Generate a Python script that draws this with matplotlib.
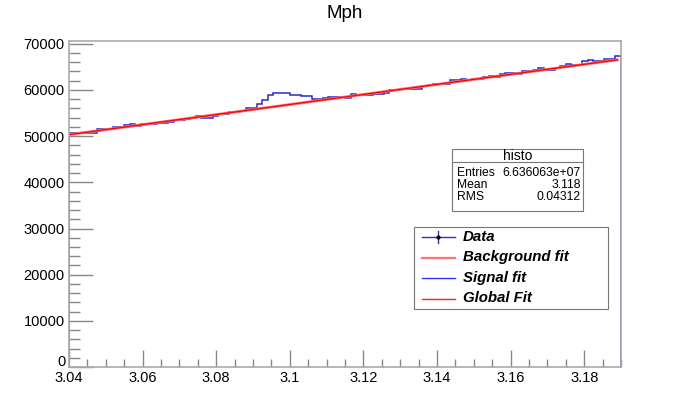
import numpy as np
import matplotlib
matplotlib.use("Agg")
import matplotlib.pyplot as plt
from matplotlib.patches import Rectangle
from matplotlib.lines import Line2D
from matplotlib.ticker import MultipleLocator, FormatStrFormatter, FuncFormatter

plt.rcParams['font.family'] = ['Liberation Sans', 'DejaVu Sans']

# histogram "Mph": 100 bins from 3.04 to 3.19
x_lo, x_hi, nbins = 3.04, 3.19, 100
counts = [50550, 50700, 50700, 50700, 50700, 51540, 51540, 51540, 51900, 51900,
          52330, 52550, 52190, 52550, 52550, 52550, 52840, 52840, 53120, 53410,
          53410, 53700, 53980, 54270, 53980, 53980, 54420, 54750, 54750, 55300,
          55300, 55400, 56140, 56140, 56860, 57870, 58900, 59400, 59400, 59380,
          58800, 58800, 58580, 58580, 57940, 57940, 58300, 58440, 58440, 58440,
          58300, 59010, 58800, 58940, 58940, 59010, 59010, 59300, 59870, 59870,
          60230, 60230, 60230, 60230, 60730, 61000, 61160, 61160, 61160, 62170,
          62170, 62310, 62020, 62380, 62380, 62740, 62880, 62740, 63320, 63600,
          63600, 63320, 64030, 64030, 64320, 64750, 64320, 64180, 64750, 65250,
          65600, 65460, 65390, 66180, 66470, 66320, 66180, 66610, 66750, 67260]

# fitted background / global fit (linear), end points
fit_x = [3.04, 3.189]
fit_y = [50300, 66490]

stats_names = ["Entries", "Mean", "RMS"]
stats_vals = ["6.636063e+07", "3.118", "0.04312"]
legend_labels = ["Data", "Background fit", "Signal fit", "Global Fit"]

W, H = 690, 408
fig = plt.figure(figsize=(W / 100, H / 100), dpi=100)
ax = fig.add_axes((0.1, 0.1, 0.8, 0.8))

edges = np.linspace(x_lo, x_hi, nbins + 1)
ax.stairs(counts, edges, color='#2a2ac8', lw=1.1)
ax.plot(fit_x, fit_y, color='#ff7070', lw=2.0)
ax.plot(fit_x, fit_y, color='#ff0000', lw=0.9)

ax.set_xlim(x_lo, x_hi)
ax.set_ylim(0, 70600)
ax.xaxis.set_major_locator(MultipleLocator(0.02))
ax.xaxis.set_minor_locator(MultipleLocator(0.005))
ax.yaxis.set_major_locator(MultipleLocator(10000))
ax.yaxis.set_minor_locator(MultipleLocator(2000))
ax.xaxis.set_major_formatter(FormatStrFormatter('%g'))
# "0" is drawn separately, a little above the x labels (ROOT style)
ax.yaxis.set_major_formatter(FuncFormatter(lambda v, p: '' if v == 0 else '%d' % v))
ax.tick_params(which='both', direction='in', color='#888888', top=False, right=False,
               labelsize=10.5, labelcolor='black')
ax.tick_params(axis='y', which='major', length=17, width=1, pad=3)
ax.tick_params(axis='y', which='minor', length=8, width=1)
ax.tick_params(axis='x', which='major', length=12, width=1, pad=3)
ax.tick_params(axis='x', which='minor', length=6, width=1)
for s in ax.spines.values():
    s.set_color('#aaaaaa')
    s.set_linewidth(1.2)
ax.annotate("0", xy=(0, 0), xycoords='axes fraction', xytext=(-2.5, 3.5),
            textcoords='offset points', ha='right', va='center', fontsize=10.5)

def fx(px):
    return px / W

def fy(py):
    return 1 - py / H

fig.text(0.5, fy(14), "Mph", ha='center', va='center', fontsize=13.5)

# stats box
fig.patches.append(Rectangle((fx(452), fy(211)), fx(583) - fx(452), fy(149) - fy(211),
                             transform=fig.transFigure, fill=True, facecolor='white',
                             edgecolor='#777777', lw=0.8))
fig.lines.append(Line2D([fx(452), fx(583)], [fy(162), fy(162)], transform=fig.transFigure,
                        color='#777777', lw=0.8))
fig.text(fx(517.5), fy(155.5), "histo", ha='center', va='center', fontsize=10)
for k, (n, v) in enumerate(zip(stats_names, stats_vals)):
    yy = fy(172.5 + 12.4 * k)
    fig.text(fx(457), yy, n, ha='left', va='center', fontsize=8.7)
    fig.text(fx(581), yy, v, ha='right', va='center', fontsize=8.7)

# legend box
fig.patches.append(Rectangle((fx(414), fy(309)), fx(608) - fx(414), fy(227) - fy(309),
                             transform=fig.transFigure, fill=True, facecolor='white',
                             edgecolor='#777777', lw=0.8))
leg_y = [237, 257.5, 278, 298.5]
leg_style = [('#3030c0', 1.0), ('#ff7070', 1.6), ('#3030ff', 1.0), ('#ff2020', 1.0)]
for k, lab in enumerate(legend_labels):
    yy = fy(leg_y[k])
    c, lw = leg_style[k]
    fig.lines.append(Line2D([fx(422), fx(455)], [yy, yy], transform=fig.transFigure,
                            color=c, lw=lw))
    fig.text(fx(463), yy, lab, ha='left', va='center', fontsize=10.8,
             fontweight='bold', fontstyle='italic')
# Data marker: error bar + dot
yy = fy(leg_y[0])
fig.lines.append(Line2D([fx(438.5), fx(438.5)], [fy(231), fy(243)], transform=fig.transFigure,
                        color='#3030c0', lw=1.0))
fig.lines.append(Line2D([fx(438.5)], [yy], transform=fig.transFigure, color='black',
                        marker='o', markersize=2, lw=0))

fig.savefig("out.png", dpi=100)
